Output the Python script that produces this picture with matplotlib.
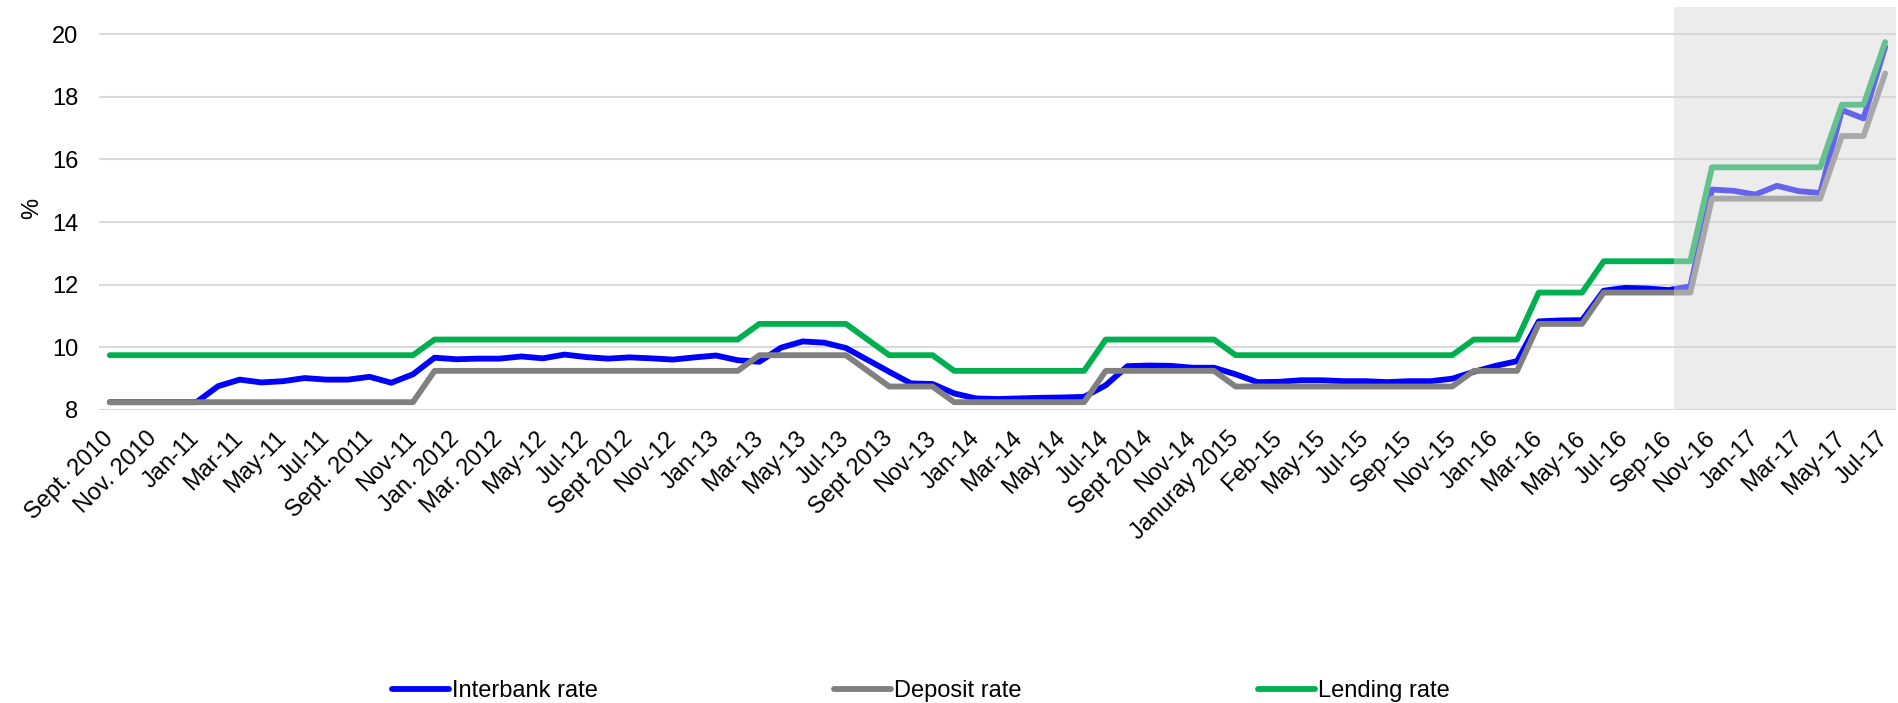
import matplotlib
matplotlib.use("Agg")
import matplotlib.pyplot as plt

plt.rcParams['font.family'] = ['Liberation Sans', 'DejaVu Sans']

# one tick label every second month, Sept 2010 .. Jul 2017
tick_labels = ['Sept. 2010', 'Nov. 2010', 'Jan-11', 'Mar-11', 'May-11', 'Jul-11',
               'Sept. 2011', 'Nov-11', 'Jan. 2012', 'Mar. 2012', 'May-12', 'Jul-12',
               'Sept 2012', 'Nov-12', 'Jan-13', 'Mar-13', 'May-13', 'Jul-13',
               'Sept 2013', 'Nov-13', 'Jan-14', 'Mar-14', 'May-14', 'Jul-14',
               'Sept 2014', 'Nov-14', 'Januray 2015', 'Feb-15', 'May-15', 'Jul-15',
               'Sep-15', 'Nov-15', 'Jan-16', 'Mar-16', 'May-16', 'Jul-16',
               'Sep-16', 'Nov-16', 'Jan-17', 'Mar-17', 'May-17', 'Jul-17']

interbank = [8.25, 8.25, 8.25, 8.25, 8.25, 8.76, 8.97, 8.88, 8.92, 9.02,
             8.97, 8.97, 9.06, 8.87, 9.14, 9.67, 9.62, 9.64, 9.64, 9.71,
             9.65, 9.77, 9.69, 9.64, 9.68, 9.65, 9.61, 9.68, 9.74, 9.59,
             9.54, 9.99, 10.19, 10.15, 9.98, 9.60, 9.22, 8.85, 8.83, 8.53,
             8.37, 8.35, 8.37, 8.39, 8.40, 8.42, 8.79, 9.40, 9.42, 9.41,
             9.35, 9.35, 9.14, 8.89, 8.90, 8.95, 8.95, 8.92, 8.92, 8.89,
             8.92, 8.92, 9.00, 9.22, 9.41, 9.56, 10.83, 10.86, 10.87, 11.81,
             11.90, 11.88, 11.83, 11.95, 15.04, 15.00, 14.88, 15.16, 14.99, 14.93,
             17.58, 17.31, 19.60]

deposit = [8.25] * 15 + [9.25] * 15 + [9.75] * 5 + [9.25] + [8.75] * 3 \
    + [8.25] * 7 + [9.25] * 6 + [8.75] * 11 + [9.25] * 3 + [10.75] * 3 \
    + [11.75] * 5 + [14.75] * 6 + [16.75] * 2 + [18.75]

lending = [9.75] * 15 + [10.25] * 15 + [10.75] * 5 + [10.25] + [9.75] * 3 \
    + [9.25] * 7 + [10.25] * 6 + [9.75] * 11 + [10.25] * 3 + [11.75] * 3 \
    + [12.75] * 5 + [15.75] * 6 + [17.75] * 2 + [19.75]

x = list(range(len(interbank)))

fig = plt.figure(figsize=(18.98, 7.03), dpi=100)
ax = fig.add_axes([99 / 1898, 293 / 703, 1797 / 1898, 403 / 703])

lw = 4.2
ax.plot(x, interbank, color='#0000ff', lw=lw, label='Interbank rate', solid_capstyle='round', zorder=3)
ax.plot(x, deposit, color='#808080', lw=lw, label='Deposit rate', solid_capstyle='round', zorder=3)
ax.plot(x, lending, color='#00b050', lw=lw, label='Lending rate', solid_capstyle='round', zorder=3)

# shaded projection period, drawn over the lines
ax.axvspan(72.25, 82.5, color='#d7d7d7', alpha=0.47, lw=0, zorder=4)

ax.set_xlim(-0.5, 82.5)
ax.set_ylim(8, 20.87)
ax.set_yticks([8, 10, 12, 14, 16, 18, 20])
ax.set_xticks(x[::2])
ax.set_xticklabels(tick_labels, rotation=45, ha='right', va='center',
                   rotation_mode='anchor', fontsize=17)
ax.tick_params(axis='both', length=0, labelsize=17)
ax.tick_params(axis='x', pad=18)
ax.tick_params(axis='y', pad=15)
ax.grid(axis='y', color='#d9d9d9', lw=1.5, zorder=0)
ax.set_axisbelow(True)
for s in ax.spines.values():
    s.set_visible(False)
ax.set_ylabel('%', fontsize=17, labelpad=6)

fig.legend(loc='center', bbox_to_anchor=(921 / 1898, 12 / 703), ncol=3,
           frameon=False, fontsize=17, handlelength=2.4, handletextpad=0.15,
           columnspacing=10, borderpad=0)

fig.savefig('out.png', dpi=100)
